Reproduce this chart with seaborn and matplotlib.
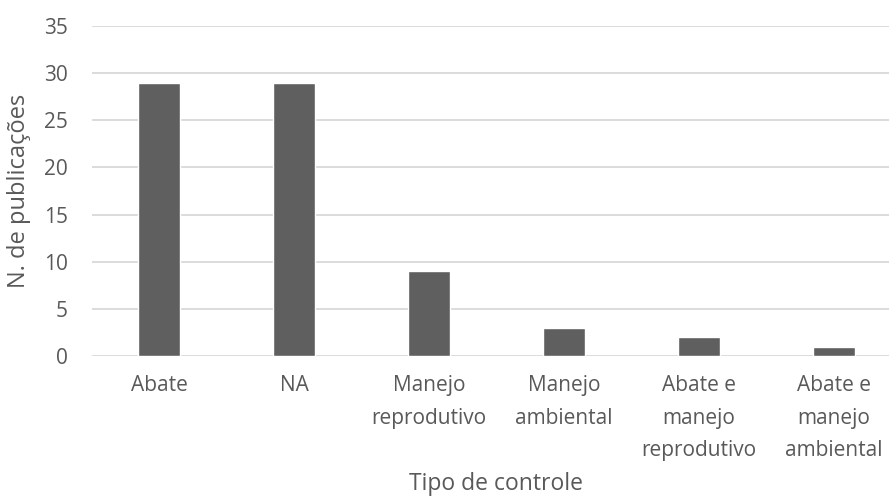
import matplotlib
matplotlib.use("Agg")
import matplotlib.pyplot as plt
import seaborn as sns
import pandas as pd

categorias = ["Abate", "NA", "Manejo\nreprodutivo", "Manejo\nambiental",
              "Abate e\nmanejo\nreprodutivo", "Abate e\nmanejo\nambiental"]
publicacoes = [29, 29, 9, 3, 2, 1]
yticks = [0, 5, 10, 15, 20, 25, 30, 35]

sns.set_theme(style="white")
plt.rcParams["font.family"] = ["Open Sans", "DejaVu Sans"]

cinza_texto = "#595959"
cinza_barra = "#5f5f5f"

df = pd.DataFrame({"tipo": categorias, "n": publicacoes})

fig = plt.figure(figsize=(8.89, 4.96), dpi=100)
W, H = 889, 496
left, right = 91.5, 901.5
bottom, top = 356, 26
ax = fig.add_axes([left / W, (H - bottom) / H, (right - left) / W, (bottom - top) / H])

sns.barplot(data=df, x="tipo", y="n", color=cinza_barra, saturation=1,
            width=0.31, ax=ax, zorder=3)

ax.set_ylim(0, 35)
ax.set_yticks(yticks)
ax.grid(axis="y", color="#d9d9d9", linewidth=1.3, zorder=0)
for s in ax.spines.values():
    s.set_visible(False)

ax.tick_params(axis="y", length=0, pad=17, labelsize=15, labelcolor=cinza_texto)
ax.tick_params(axis="x", length=0, pad=14, labelsize=15, labelcolor=cinza_texto)
for lab in ax.get_xticklabels():
    lab.set_linespacing(1.72)

ax.set_xlabel("")
ax.set_ylabel("")
fig.text(496 / W, 1 - 484 / H, "Tipo de controle", ha="center", va="center",
         fontsize=16.5, color=cinza_texto)
fig.text(19 / W, 1 - 190.5 / H, "N. de publicações", ha="center", va="center",
         rotation=90, fontsize=17, color=cinza_texto)

fig.savefig("out.png", dpi=100)
